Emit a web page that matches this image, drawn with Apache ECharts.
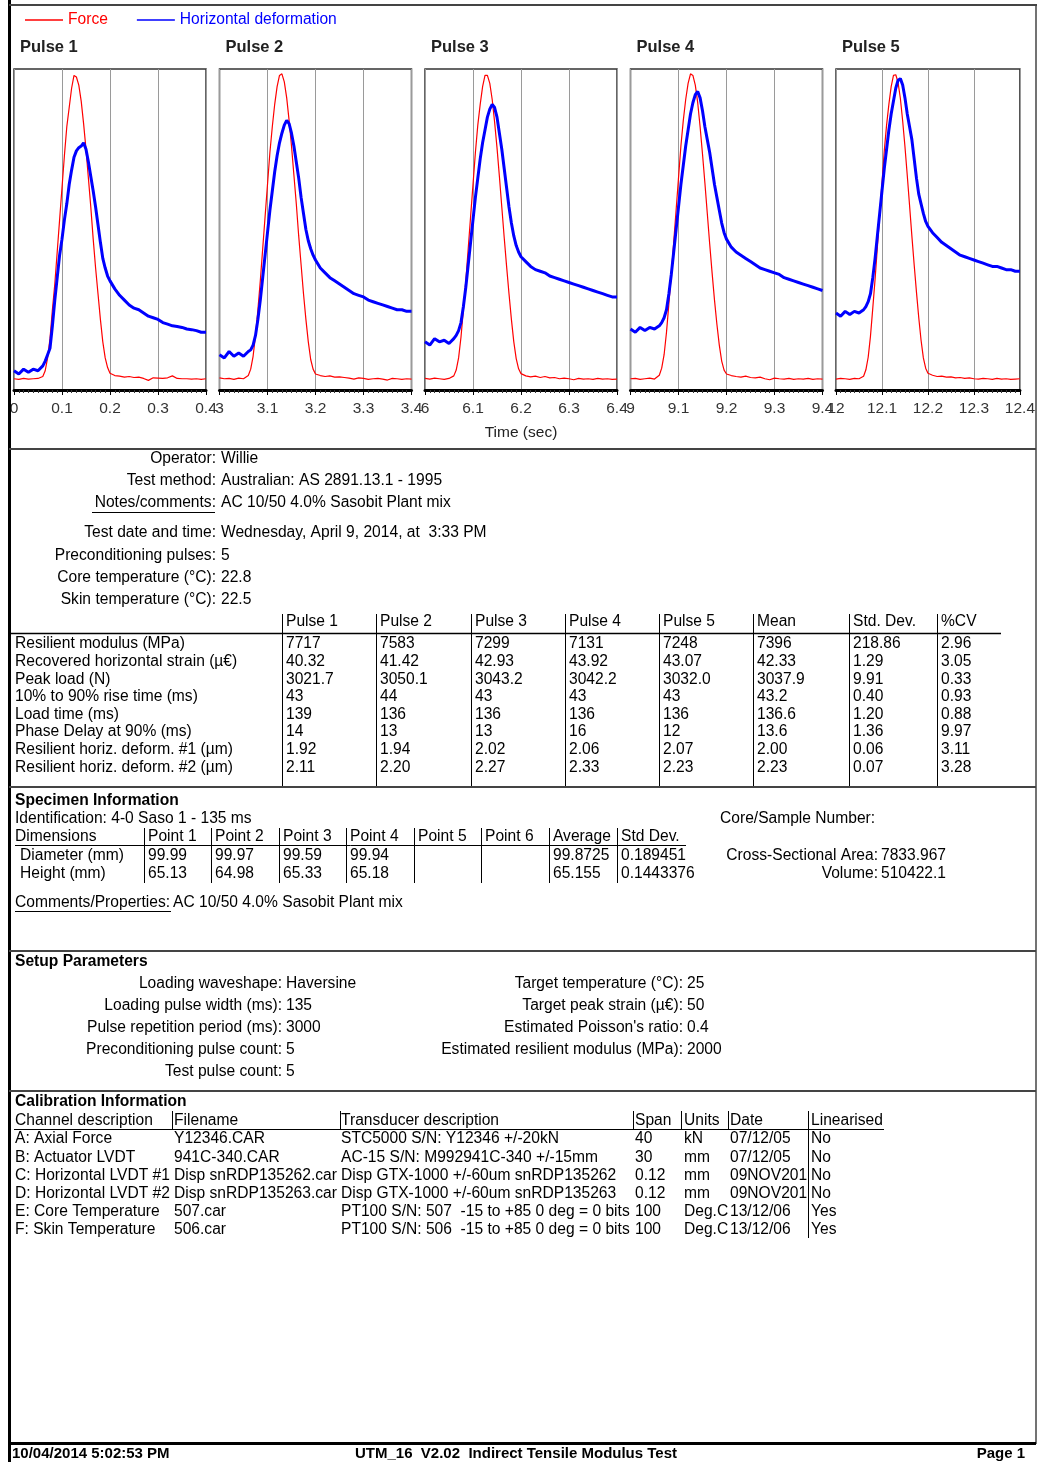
<!DOCTYPE html>
<html>
<head>
<meta charset="utf-8">
<title>Indirect Tensile Modulus Test</title>
<script src="https://cdn.jsdelivr.net/npm/echarts@6/dist/echarts.min.js"></script>
<style>
  html, body { margin: 0; padding: 0; background: #fff; }
  #main { width: 1038px; height: 1462px; }
</style>
</head>
<body>
<div id="main"></div>
<script>
// ---- Pulse traces (time relative to pulse start, s; traces in % of plot height) ----
const pulseNames = ['Pulse 1', 'Pulse 2', 'Pulse 3', 'Pulse 4', 'Pulse 5'];
const pulseStarts = [0, 3, 6, 9, 12];
const sampleTimes = [
  0, 0.01, 0.02, 0.03, 0.04, 0.05, 0.06,
  0.065, 0.07, 0.075, 0.08, 0.085, 0.09, 0.095, 0.1, 0.105, 0.11, 0.115, 0.12, 0.125, 0.13,
  0.135, 0.14, 0.145, 0.15, 0.155, 0.16, 0.165, 0.17, 0.175, 0.18, 0.185, 0.19, 0.195, 0.2,
  0.21, 0.22, 0.23, 0.24, 0.25, 0.26, 0.27, 0.28, 0.29, 0.3, 0.31, 0.32, 0.33, 0.34, 0.35,
  0.36, 0.37, 0.38, 0.39, 0.4
];

const force1 = [3.5, 3.3, 3.6, 3.4, 3.5, 3.6, 4.2,
  6, 10, 16, 25, 33, 43, 53, 63, 73, 82, 88, 94, 98, 97.5, 95, 90, 83, 75, 66, 57, 47, 38, 30, 22, 15, 10, 7, 5.2,
  4.5, 4.3, 4.0, 4.2, 3.9, 4.0, 3.6, 3.0, 3.8, 3.7, 3.6, 3.8, 4.4, 3.6, 3.5, 3.5, 3.4, 3.5, 3.3, 3.5];
const deform1 = [6, 5, 6.5, 5.5, 6.5, 6, 7.5,
  9, 11, 13, 20, 28, 35, 42, 47, 53, 58, 64, 68.5, 72.5, 74.5, 75.5, 76, 77, 75, 71, 66.5, 62, 57, 51.5, 46, 41, 38, 35.5, 34,
  31.5, 29.5, 28, 26.5, 25.5, 25, 24, 23, 22.5, 22, 21, 20.5, 20, 19.8, 19.5, 19, 18.8, 18.5, 18, 18];

const force2 = [3.8, 3.5, 3.6, 3.3, 3.7, 3.5, 4.5,
  6.5, 10.5, 17, 25, 34, 44, 54, 64, 74, 82, 89, 94.5, 98, 98.5, 96, 91, 84, 76, 67, 58, 48, 39, 30, 22, 15, 9.5, 6.5, 5,
  4.5, 4.2, 4.4, 4.0, 4.1, 3.9, 3.7, 3.4, 3.8, 3.6, 3.3, 3.5, 3.6, 3.4, 3.1, 3.6, 3.5, 3.3, 3.5, 3.4];
const deform2 = [11, 10, 12, 10.5, 11.5, 10.5, 12,
  12.5, 14, 17, 22, 28, 35, 42, 49, 56, 62, 68, 73, 77, 80, 82.5, 84, 83, 80, 76, 71, 66, 60, 55, 50, 46.5, 44, 42, 40.5,
  38, 36.5, 35, 34, 33, 32, 31, 30, 29.5, 29, 28, 27.5, 27, 26.5, 26, 25.5, 25, 25, 24.5, 24.5];

const force3 = [3.6, 3.4, 3.7, 3.5, 3.3, 3.6, 4.4,
  6.2, 10, 16.5, 25, 34, 44, 54, 64, 74, 82.5, 89, 94.5, 98, 98, 95.5, 90.5, 83.5, 75.5, 66.5, 57, 47.5, 38.5, 30, 22, 15, 9.8, 6.6, 5.1,
  4.4, 4.1, 4.3, 3.9, 4.2, 3.8, 3.9, 3.5, 3.7, 3.5, 3.2, 3.6, 3.4, 3.5, 3.3, 3.6, 3.4, 3.5, 3.3, 3.4];
const deform3 = [15, 14, 16, 15, 15.5, 14.5, 16,
  17, 18.5, 21, 26, 32, 39, 46, 53, 60, 66, 72, 77, 81, 85, 87.5, 89, 88, 85, 80, 75, 69, 63, 57, 52, 48, 45, 43, 41.5,
  40, 38.5, 37.5, 37, 36.5, 35.5, 35, 34.5, 34, 33.5, 33, 32.5, 32, 31.5, 31, 30.5, 30, 29.5, 29, 29];

const force4 = [3.5, 3.6, 3.3, 3.5, 3.7, 3.4, 4.6,
  6.8, 11, 18, 27, 36, 46, 56, 66, 76, 84, 90.5, 95.5, 98.5, 98, 95, 89.5, 82, 73.5, 64.5, 55, 45.5, 36.5, 28, 20.5, 14, 9, 6.2, 5,
  4.5, 4.2, 4.0, 4.3, 3.9, 3.8, 4.0, 3.5, 3.2, 3.7, 3.5, 3.4, 3.6, 3.3, 3.5, 3.4, 3.6, 3.3, 3.5, 3.4];
const deform4 = [19, 18, 19.5, 18.5, 19.5, 19, 20,
  21, 22.5, 25, 30, 36, 43, 50, 57, 64, 70, 76, 81, 86, 89.5, 92, 93, 91, 87, 82, 78, 74, 69, 64, 60, 56, 52, 49, 47,
  44.5, 43, 42, 41, 40, 39, 38, 37.5, 37, 36.5, 36, 35, 34.5, 34, 33.5, 33, 32.5, 32, 31.5, 31];

const force5 = [3.4, 3.6, 3.5, 3.3, 3.6, 3.5, 4.3,
  6.3, 10.2, 16.8, 25.5, 34.5, 44.5, 54.5, 64.5, 74.5, 82.5, 89, 94.5, 98, 98.2, 95.8, 90.8, 83.8, 75.8, 66.8, 57.5, 48, 39, 30.5, 22.5, 15.5, 10, 6.8, 5.2,
  4.6, 4.2, 4.3, 4.0, 4.1, 3.8, 3.9, 3.6, 3.8, 3.5, 3.4, 3.6, 3.5, 3.3, 3.6, 3.4, 3.5, 3.3, 3.4, 3.5];
const deform5 = [24, 23, 24.5, 23.5, 24.5, 24, 25,
  26, 27.5, 30, 35, 41, 48, 55, 62, 69, 75, 81, 86, 90, 94, 96.5, 97, 95, 91, 86, 82, 78, 72, 66, 61, 58, 55, 52.5, 51,
  49, 47.5, 46, 45, 44, 43, 42, 41.5, 41, 40.5, 40, 39.5, 39, 38.5, 38.5, 38, 37.5, 37.5, 37, 37];

const forceTraces = [force1, force2, force3, force4, force5];
const deformTraces = [deform1, deform2, deform3, deform4, deform5];

// ---- Report text ----
const testInfo = [
  ['Operator:', 'Willie'],
  ['Test method:', 'Australian: AS 2891.13.1 - 1995'],
  ['Notes/comments:', 'AC 10/50 4.0% Sasobit Plant mix'],
  ['Test date and time:', 'Wednesday, April 9, 2014, at  3:33 PM'],
  ['Preconditioning pulses:', '5'],
  ['Core temperature (°C):', '22.8'],
  ['Skin temperature (°C):', '22.5']
];
const resultColumns = ['Pulse 1', 'Pulse 2', 'Pulse 3', 'Pulse 4', 'Pulse 5', 'Mean', 'Std. Dev.', '%CV'];
const resultRowLabels = [
  'Resilient modulus (MPa)', 'Recovered horizontal strain (µ€)', 'Peak load (N)',
  '10% to 90% rise time (ms)', 'Load time (ms)', 'Phase Delay at 90% (ms)',
  'Resilient horiz. deform. #1 (µm)', 'Resilient horiz. deform. #2 (µm)'
];
const resultValues = [
  ['7717', '7583', '7299', '7131', '7248', '7396', '218.86', '2.96'],
  ['40.32', '41.42', '42.93', '43.92', '43.07', '42.33', '1.29', '3.05'],
  ['3021.7', '3050.1', '3043.2', '3042.2', '3032.0', '3037.9', '9.91', '0.33'],
  ['43', '44', '43', '43', '43', '43.2', '0.40', '0.93'],
  ['139', '136', '136', '136', '136', '136.6', '1.20', '0.88'],
  ['14', '13', '13', '16', '12', '13.6', '1.36', '9.97'],
  ['1.92', '1.94', '2.02', '2.06', '2.07', '2.00', '0.06', '3.11'],
  ['2.11', '2.20', '2.27', '2.33', '2.23', '2.23', '0.07', '3.28']
];
const dimensionColumns = ['Point 1', 'Point 2', 'Point 3', 'Point 4', 'Point 5', 'Point 6', 'Average', 'Std Dev.'];
const dimensionRows = [
  ['Diameter (mm)', '99.99', '99.97', '99.59', '99.94', '', '', '99.8725', '0.189451'],
  ['Height (mm)', '65.13', '64.98', '65.33', '65.18', '', '', '65.155', '0.1443376']
];
const setupLeft = [
  ['Loading waveshape:', 'Haversine'],
  ['Loading pulse width (ms):', '135'],
  ['Pulse repetition period (ms):', '3000'],
  ['Preconditioning pulse count:', '5'],
  ['Test pulse count:', '5']
];
const setupRight = [
  ['Target temperature (°C):', '25'],
  ['Target peak strain (µ€):', '50'],
  ["Estimated Poisson's ratio:", '0.4'],
  ['Estimated resilient modulus (MPa):', '2000']
];
const calibrationColumns = ['Channel description', 'Filename', 'Transducer description', 'Span', 'Units', 'Date', 'Linearised'];
const calibrationRows = [
  ['A: Axial Force', 'Y12346.CAR', 'STC5000 S/N: Y12346 +/-20kN', '40', 'kN', '07/12/05', 'No'],
  ['B: Actuator LVDT', '941C-340.CAR', 'AC-15 S/N: M992941C-340 +/-15mm', '30', 'mm', '07/12/05', 'No'],
  ['C: Horizontal LVDT #1', 'Disp snRDP135262.car', 'Disp GTX-1000 +/-60um snRDP135262', '0.12', 'mm', '09NOV201', 'No'],
  ['D: Horizontal LVDT #2', 'Disp snRDP135263.car', 'Disp GTX-1000 +/-60um snRDP135263', '0.12', 'mm', '09NOV201', 'No'],
  ['E: Core Temperature', '507.car', 'PT100 S/N: 507  -15 to +85 0 deg = 0 bits', '100', 'Deg.C', '13/12/06', 'Yes'],
  ['F: Skin Temperature', '506.car', 'PT100 S/N: 506  -15 to +85 0 deg = 0 bits', '100', 'Deg.C', '13/12/06', 'Yes']
];
const footerText = ['10/04/2014 5:02:53 PM', 'UTM_16  V2.02  Indirect Tensile Modulus Test', 'Page 1'];

// ---- Drawing helpers ----
const FONT = '"Liberation Sans", Arial, Helvetica, sans-serif';
const BODY = 15.6;
const RED = '#ff0000';
const BLUE = '#0000ff';

function font(size, bold) {
  return (bold ? 'bold ' : '') + size + 'px ' + FONT;
}
function text(x, y, s, o) {
  o = o || {};
  const al = o.align || 'left';
  return {
    type: 'text', x: x, y: y, silent: true, z: 10,
    style: {
      text: s, font: font(o.size || BODY, o.bold), fill: o.color || '#000',
      align: al, verticalAlign: 'middle', textAlign: al, textVerticalAlign: 'middle'
    }
  };
}
function line(x1, y1, x2, y2, w, c) {
  return {
    type: 'line', silent: true, z: 5,
    shape: { x1: x1, y1: y1, x2: x2, y2: y2 },
    style: { stroke: c || '#000', lineWidth: w || 1 }
  };
}

// ---- Chart grids ----
const GRID_LEFT0 = 14, GRID_STEP = 205.5, GRID_W = 192, GRID_TOP = 69, GRID_H = 321;
const grids = [], xAxes = [], yAxes = [], series = [];
pulseStarts.forEach(function (start, i) {
  grids.push({
    left: GRID_LEFT0 + GRID_STEP * i, top: GRID_TOP, width: GRID_W, height: GRID_H,
    show: true, borderColor: '#333', borderWidth: 1.5, backgroundColor: 'transparent'
  });
  xAxes.push({
    type: 'value', gridIndex: i, min: start, max: start + 0.4, interval: 0.1,
    name: i === 2 ? 'Time (sec)' : '', nameLocation: 'middle', nameGap: 35,
    nameTextStyle: { fontFamily: FONT, fontSize: 15.5, color: '#222' },
    axisLine: { show: true, onZero: false, lineStyle: { color: '#000', width: 3 } },
    axisTick: { show: true, length: 5, lineStyle: { color: '#000', width: 1 } },
    minorTick: { show: true, splitNumber: 10, length: 3, lineStyle: { color: '#333', width: 1 } },
    splitLine: { show: true, lineStyle: { color: '#9a9a9a', width: 1 } },
    axisLabel: {
      fontFamily: FONT, fontSize: 15.5, color: '#333', margin: 11,
      showMinLabel: true, showMaxLabel: true,
      formatter: function (v) { return String(Math.round(v * 10) / 10); }
    }
  });
  yAxes.push({ type: 'value', gridIndex: i, min: 0, max: 100, show: false });
  series.push({
    name: 'Force', type: 'line', xAxisIndex: i, yAxisIndex: i, symbol: 'none',
    color: RED, lineStyle: { color: RED, width: 1.2 }, z: 2,
    data: sampleTimes.map(function (t, k) { return [start + t, forceTraces[i][k]]; })
  });
  series.push({
    name: 'Horizontal deformation', type: 'line', xAxisIndex: i, yAxisIndex: i, symbol: 'none',
    color: BLUE, lineStyle: { color: BLUE, width: 3 }, z: 3,
    data: sampleTimes.map(function (t, k) { return [start + t, deformTraces[i][k]]; })
  });
});

// ---- Page graphics ----
const g = [];
// page frame and section rules
g.push(line(9.5, 0, 9.5, 1462, 3, '#000'));
g.push(line(9, 5, 1037, 5, 2, '#444'));
g.push(line(1036, 5, 1036, 1444, 1.5, '#444'));
[449, 787, 951, 1091].forEach(function (y) { g.push(line(9, y, 1036, y, 2, '#444')); });
g.push(line(9, 1443.5, 1036, 1443.5, 3, '#000'));

// pulse titles
pulseNames.forEach(function (n, i) {
  g.push(text(GRID_LEFT0 + GRID_STEP * i + 6, 47, n, { bold: true, size: 16.5, color: '#222' }));
});

// test information
const infoY = [459, 481, 503, 533, 556, 578, 600];
testInfo.forEach(function (r, i) {
  g.push(text(216, infoY[i], r[0], { align: 'right' }));
  g.push(text(221, infoY[i], r[1]));
});
g.push(line(92, 512.5, 215, 512.5, 1, '#000'));

// results table
const resColX = [282, 376, 471, 565, 659, 753, 849, 937];
resColX.forEach(function (x, j) {
  g.push(line(x + 0.5, 614, x + 0.5, 786, 1, '#000'));
  g.push(text(x + 4, 622, resultColumns[j]));
});
g.push(line(10, 633.5, 1001, 633.5, 1.5, '#000'));
resultRowLabels.forEach(function (lab, i) {
  const y = 644 + i * 17.6;
  g.push(text(15, y, lab));
  resultValues[i].forEach(function (v, j) { g.push(text(resColX[j] + 4, y, v)); });
});

// specimen information
g.push(text(15, 801, 'Specimen Information', { bold: true }));
g.push(text(15, 819, 'Identification: 4-0 Saso 1 - 135 ms'));
g.push(text(15, 837, 'Dimensions'));
const dimColX = [144, 211, 279, 346, 414, 481, 549, 617];
dimColX.forEach(function (x, j) {
  g.push(line(x + 0.5, 828, x + 0.5, 883, 1, '#000'));
  g.push(text(x + 4, 837, dimensionColumns[j]));
});
g.push(line(15, 845.5, 686, 845.5, 1, '#000'));
dimensionRows.forEach(function (r, i) {
  const y = 856 + i * 18;
  g.push(text(20, y, r[0]));
  for (let j = 1; j < r.length; j++) g.push(text(dimColX[j - 1] + 4, y, r[j]));
});
g.push(text(720, 819, 'Core/Sample Number:'));
g.push(text(878, 856, 'Cross-Sectional Area:', { align: 'right' }));
g.push(text(881, 856, '7833.967'));
g.push(text(878, 874, 'Volume:', { align: 'right' }));
g.push(text(881, 874, '510422.1'));
g.push(text(15, 903, 'Comments/Properties:'));
g.push(line(15, 911.5, 171, 911.5, 1, '#000'));
g.push(text(173, 903, 'AC 10/50 4.0% Sasobit Plant mix'));

// setup parameters
g.push(text(15, 962, 'Setup Parameters', { bold: true }));
setupLeft.forEach(function (r, i) {
  const y = 984 + i * 22;
  g.push(text(282, y, r[0], { align: 'right' }));
  g.push(text(286, y, r[1]));
});
setupRight.forEach(function (r, i) {
  const y = 984 + i * 22;
  g.push(text(683, y, r[0], { align: 'right' }));
  g.push(text(687, y, r[1]));
});

// calibration information
g.push(text(15, 1102, 'Calibration Information', { bold: true }));
const calColX = [15, 174, 341, 635, 684, 730, 811];
const calSepX = [172, 340, 633, 681, 728, 808];
calibrationColumns.forEach(function (c, j) { g.push(text(calColX[j], 1121, c)); });
calSepX.forEach(function (x, j) {
  const last = j === calSepX.length - 1;
  g.push(line(x + 0.5, 1111, x + 0.5, last ? 1238 : 1129, 1, '#000'));
});
g.push(line(14, 1129.5, 884, 1129.5, 1, '#000'));
calibrationRows.forEach(function (r, i) {
  const y = 1139 + i * 18.2;
  r.forEach(function (v, j) { g.push(text(calColX[j], y, v)); });
});

// footer
g.push(text(12, 1454, footerText[0], { bold: true, size: 15 }));
g.push(text(355, 1454, footerText[1], { bold: true, size: 15 }));
g.push(text(1025, 1454, footerText[2], { bold: true, size: 15, align: 'right' }));

const chart = echarts.init(document.getElementById('main'), null, { renderer: 'canvas' });
chart.setOption({
  backgroundColor: '#fff',
  animation: false,
  legend: {
    left: 20, top: 7, icon: 'rect', itemWidth: 38, itemHeight: 1.5, itemGap: 29,
    textStyle: { fontFamily: FONT, fontSize: 15.6 },
    data: [
      { name: 'Force', textStyle: { color: RED } },
      { name: 'Horizontal deformation', textStyle: { color: BLUE } }
    ]
  },
  grid: grids,
  xAxis: xAxes,
  yAxis: yAxes,
  series: series,
  graphic: { elements: g }
});
</script>
</body>
</html>
